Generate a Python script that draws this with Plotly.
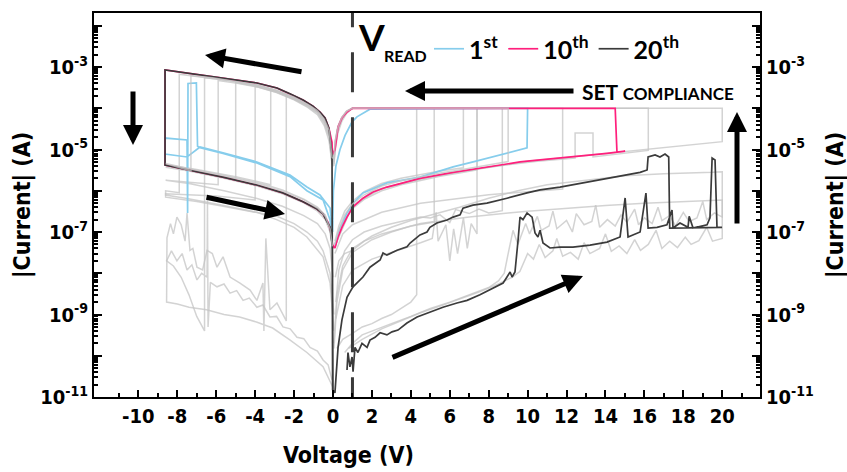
import plotly.graph_objects as go

# ------------------------------------------------------------------
# I-V sweeps, (voltage [V], |current| [A]) in sweep order:
# 0 -> +V (SET) -> 0 (compliance) -> -8.6 V (LRS / RESET) -> 0 (HRS)
# ------------------------------------------------------------------
cycle_1st = [
    (0.10, 4.9e-8), (0.36, 1.25e-7), (0.72, 2.9e-7), (1.03, 5.0e-7), (1.54, 8.9e-7),
    (2.77, 1.55e-6), (4.47, 2.15e-6), (5.30, 2.9e-6), (6.17, 3.8e-6), (7.20, 5.0e-6),
    (8.22, 6.6e-6), (9.10, 8.5e-6), (9.97, 1.1e-5), (10.00, 1.0e-4), (1.90, 9.5e-5),
    (1.23, 6.2e-5), (0.98, 4.7e-5), (0.62, 2.2e-5), (0.36, 1.0e-5), (0.15, 4.0e-6),
    (0.02, 1.0e-6), (-0.02, 1.0e-7), (-0.15, 3.8e-7), (-0.67, 7.9e-7), (-1.34, 1.23e-6),
    (-2.21, 2.4e-6), (-3.91, 5.0e-6), (-5.65, 8.3e-6), (-6.83, 1.15e-5), (-7.50, 6.6e-6),
    (-8.63, 7.8e-6), (-8.63, 1.9e-5), (-7.50, 1.7e-5), (-7.47, 2.9e-7), (-7.45, 4.0e-4),
    (-7.02, 4.1e-4), (-6.96, 1.2e-5), (-6.83, 1.1e-5), (-5.65, 8.0e-6), (-3.91, 4.7e-6),
    (-2.21, 2.2e-6), (-1.34, 1.0e-6), (-0.51, 6.0e-7), (-0.15, 1.95e-7), (-0.03, 4.0e-8),
]

cycle_10th = [
    (0.10, 4.1e-8), (0.26, 7.6e-8), (0.46, 1.3e-7), (0.72, 2.3e-7), (1.03, 4.1e-7),
    (1.54, 6.6e-7), (2.06, 9.3e-7), (2.77, 1.23e-6), (3.60, 1.55e-6), (4.47, 2.0e-6),
    (6.17, 2.8e-6), (7.91, 3.8e-6), (9.61, 5.0e-6), (10.64, 5.6e-6), (12.33, 6.6e-6),
    (14.08, 8.1e-6), (15.01, 9.1e-6), (14.59, 8.7e-6), (14.50, 1.0e-4), (1.00, 1.0e-4),
    (0.72, 8.1e-5), (0.46, 5.8e-5), (0.26, 3.5e-5), (0.15, 1.7e-5), (0.10, 9.8e-6),
    (-0.03, 7.4e-6), (-0.05, 1.5e-5), (-0.21, 3.3e-5), (-0.41, 5.8e-5), (-0.67, 8.1e-5),
    (-1.03, 1.13e-4), (-1.54, 1.58e-4), (-2.21, 2.24e-4), (-2.88, 3.1e-4), (-3.91, 4.1e-4),
    (-5.65, 5.4e-4), (-7.35, 7.1e-4), (-8.63, 8.5e-4), (-8.63, 4.2e-6), (-7.35, 3.2e-6),
    (-5.65, 2.15e-6), (-3.91, 1.38e-6), (-2.57, 8.9e-7), (-1.54, 5.4e-7), (-0.82, 3.6e-7),
    (-0.51, 2.7e-7), (-0.25, 1.7e-7), (-0.10, 1.0e-7), (-0.03, 5.0e-8), (0.08, 4.0e-8),
]

cycle_20th = [
    # forward sweep 0 -> 20 V
    (0.72, 4.5e-11), (0.77, 1.2e-10), (0.87, 5.4e-11), (0.98, 9.3e-11), (1.03, 4.1e-11),
    (1.13, 1.6e-10), (1.28, 1.2e-10), (1.49, 2.0e-10), (1.75, 1.6e-10), (1.90, 2.4e-10),
    (2.16, 2.8e-10), (2.42, 3.6e-10), (2.77, 3.2e-10), (3.03, 3.8e-10), (3.34, 4.2e-10),
    (3.80, 6.2e-10), (4.32, 8.7e-10), (4.98, 1.15e-9), (5.65, 1.5e-9), (6.37, 1.9e-9),
    (6.89, 2.2e-9), (7.55, 3.0e-9), (8.22, 4.4e-9), (8.74, 5.8e-9), (8.94, 8.1e-9),
    (9.10, 1.07e-8), (9.20, 8.1e-9), (9.35, 1.07e-8), (9.51, 6.4e-8), (9.61, 2.3e-7),
    (9.76, 2.0e-7), (9.97, 2.9e-7), (10.23, 2.3e-7), (10.38, 9.5e-8), (10.53, 7.6e-8),
    (10.64, 1.1e-7), (10.79, 5.4e-8), (11.15, 4.1e-8), (11.66, 4.3e-8), (12.33, 4.3e-8),
    (13.21, 4.8e-8), (14.08, 5.7e-8), (14.75, 7.6e-8), (15.01, 6.7e-7), (15.16, 7.6e-8),
    (15.78, 1.0e-7), (16.08, 8.8e-7), (16.19, 1.25e-7), (16.65, 1.3e-7), (17.16, 1.5e-7),
    (17.42, 3.4e-7), (17.47, 1.25e-7), (17.83, 1.65e-7), (18.24, 1.3e-7), (18.30, 2.4e-7),
    (18.50, 1.25e-7), (19.22, 1.5e-7), (19.37, 2.2e-7), (19.48, 6.2e-6), (19.63, 5.6e-6),
    (19.73, 1.3e-7), (19.99, 1.3e-7),
    # return sweep 20 -> 0 V
    (17.30, 1.25e-7), (17.25, 6.6e-6), (17.06, 7.8e-6), (16.80, 6.6e-6), (16.55, 7.4e-6),
    (16.19, 6.6e-6), (16.14, 3.2e-6), (15.78, 2.8e-6), (14.08, 2.0e-6), (12.33, 1.45e-6),
    (11.66, 1.23e-6), (10.64, 1.05e-6), (9.97, 8.9e-7), (8.94, 6.6e-7), (7.91, 5.0e-7),
    (7.19, 4.5e-7), (6.68, 3.8e-7), (6.53, 2.6e-7), (6.17, 2.3e-7), (5.86, 1.95e-7),
    (5.34, 1.66e-7), (4.98, 1.3e-7), (4.83, 1.0e-7), (4.47, 8.5e-8), (3.96, 5.4e-8),
    (3.80, 4.4e-8), (3.29, 3.6e-8), (2.77, 2.75e-8), (2.57, 3.1e-8), (2.42, 2.1e-8),
    (1.90, 1.4e-8), (1.54, 8.1e-9), (1.03, 4.7e-9), (0.87, 3.5e-9), (0.72, 2.6e-9),
    (0.46, 7.4e-10), (0.26, 1.6e-10), (0.10, 1.26e-11),
    # negative sweep
    (-0.02, 1.5e-11), (-0.05, 7.4e-6), (-0.21, 3.3e-5), (-0.41, 5.8e-5), (-0.67, 8.1e-5),
    (-1.03, 1.13e-4), (-1.54, 1.58e-4), (-2.21, 2.24e-4), (-2.88, 3.1e-4), (-3.91, 4.1e-4),
    (-5.65, 5.4e-4), (-7.35, 7.1e-4), (-8.63, 8.5e-4), (-8.63, 4.2e-6), (-7.35, 3.2e-6),
    (-5.65, 2.15e-6), (-3.91, 1.38e-6), (-2.57, 8.9e-7), (-1.54, 5.4e-7), (-0.82, 3.6e-7),
    (-0.51, 2.7e-7), (-0.15, 1.3e-7), (-0.03, 4.4e-8), (0.00, 1.2e-11),
]

# other cycles (drawn in light grey)
grey_a = [
    (0.08, 5e-8), (0.3, 1.1e-7), (0.6, 2.6e-7), (1.0, 4.8e-7), (1.6, 8e-7), (2.5, 1.3e-6),
    (3.5, 1.75e-6), (4.5, 2.2e-6), (5.5, 2.7e-6), (6.5, 3.2e-6), (7.5, 3.9e-6), (8.5, 4.7e-6),
    (9.0, 5.1e-6), (9.0, 1e-4), (1.0, 1e-4), (0.7, 8.4e-5), (0.45, 5.9e-5), (0.25, 3.4e-5),
    (0.12, 1.6e-5), (0.04, 6e-6), (-0.05, 6.5e-6), (-0.2, 3e-5), (-0.45, 5.4e-5),
    (-0.8, 8.8e-5), (-1.3, 1.25e-4), (-2.0, 1.85e-4), (-2.9, 2.7e-4), (-3.9, 3.7e-4),
    (-5.0, 4.5e-4), (-6.2, 5.5e-4), (-7.3, 6.2e-4), (-7.3, 3.0e-6), (-8.6, 4.6e-6),
    (-7.4, 3.4e-6), (-5.6, 2.3e-6), (-3.9, 1.5e-6), (-2.6, 9.8e-7), (-1.5, 6.0e-7),
    (-0.8, 3.8e-7), (-0.4, 2.4e-7), (-0.15, 1.2e-7), (-0.03, 4.5e-8),
]
grey_b = [
    (0.1, 4e-8), (0.3, 9e-8), (0.6, 2.0e-7), (1.0, 3.7e-7), (1.6, 6.2e-7), (2.5, 1.0e-6),
    (3.5, 1.4e-6), (4.5, 1.8e-6), (5.5, 2.25e-6), (6.5, 2.7e-6), (7.4, 3.2e-6), (7.4, 1e-4),
    (1.0, 1e-4), (0.7, 8.0e-5), (0.45, 5.5e-5), (0.25, 3.0e-5), (0.12, 1.3e-5), (0.04, 5e-6),
    (-0.05, 5.5e-6), (-0.2, 2.2e-5), (-0.45, 4.6e-5), (-0.8, 8.0e-5), (-1.3, 1.15e-4),
    (-2.0, 1.7e-4), (-2.9, 2.5e-4), (-3.9, 3.4e-4), (-5.0, 4.2e-4), (-5.0, 1.9e-6),
    (-6.5, 2.6e-6), (-8.6, 3.7e-6), (-7.4, 3.0e-6), (-5.6, 2.0e-6), (-3.9, 1.3e-6),
    (-2.6, 8.4e-7), (-1.5, 5.1e-7), (-0.8, 3.2e-7), (-0.4, 2.0e-7), (-0.15, 1.0e-7),
    (-0.03, 3.8e-8),
]
grey_c = [
    (0.1, 6e-8), (0.3, 1.4e-7), (0.6, 3.2e-7), (1.0, 5.6e-7), (1.6, 9.5e-7), (2.5, 1.5e-6),
    (3.5, 2.0e-6), (4.5, 2.5e-6), (5.5, 3.0e-6), (6.7, 3.6e-6), (6.7, 1e-4), (1.0, 1e-4),
    (0.7, 7.5e-5), (0.45, 4.8e-5), (0.25, 2.5e-5), (0.12, 1.0e-5), (0.04, 4e-6),
    (-0.05, 4.5e-6), (-0.2, 1.6e-5), (-0.45, 3.8e-5), (-0.8, 7.0e-5), (-1.3, 1.05e-4),
    (-2.0, 1.6e-4), (-2.9, 2.4e-4), (-4.0, 3.4e-4), (-4.0, 6e-7), (-6.0, 7.5e-7),
    (-8.6, 8.5e-7), (-8.6, 7.9e-7), (-7.5, 6.5e-7), (-6.0, 4.8e-7), (-3.9, 3.0e-7),
    (-2.9, 2.0e-7), (-2.0, 1.3e-7), (-1.34, 7.6e-8), (-0.51, 2.5e-8), (-0.15, 5.8e-9),
    (0.05, 4e-10),
]
grey_d = [
    (0.15, 2e-9), (0.3, 1.2e-8), (0.6, 3.5e-8), (1.0, 6.5e-8), (1.6, 1.0e-7), (2.5, 1.4e-7),
    (3.5, 1.8e-7), (4.5, 2.3e-7), (5.0, 2.2e-7), (5.5, 2.6e-7), (6.0, 1.7e-7), (6.3, 3.5e-7),
    (7.0, 2.8e-7), (7.5, 3.6e-7), (8.0, 2.9e-7), (8.7, 3.3e-7), (8.7, 1e-4), (1.0, 1e-4),
    (0.7, 8.6e-5), (0.45, 6.0e-5), (0.25, 3.6e-5), (0.12, 1.7e-5), (0.04, 7e-6),
    (-0.05, 8e-6), (-0.2, 3.2e-5), (-0.45, 5.6e-5), (-0.8, 9.0e-5), (-1.3, 1.28e-4),
    (-2.0, 1.9e-4), (-2.9, 2.75e-4), (-3.9, 3.7e-4), (-5.0, 4.6e-4), (-6.6, 5.5e-4),
    (-6.6, 4e-10), (-7.0, 9e-10), (-7.4, 3e-9), (-7.8, 8e-9), (-8.2, 1.5e-8), (-8.55, 2.0e-8),
    (-8.3, 3.5e-8), (-8.02, 2.0e-8), (-7.75, 3.0e-8), (-7.5, 1.2e-8), (-7.25, 1.6e-8),
    (-6.99, 6.9e-9), (-6.75, 1.0e-8), (-6.47, 8.1e-9), (-6.45, 6e-7), (-6.42, 5e-10),
    (-6.3, 6e-9), (-5.96, 4.7e-9), (-5.6, 5.5e-9), (-5.29, 3.3e-9), (-4.95, 3.8e-9),
    (-4.62, 2.2e-9), (-4.3, 2.5e-9), (-3.91, 1.5e-9), (-3.6, 1.7e-9), (-3.24, 8.7e-10),
    (-2.9, 9e-10), (-2.57, 5.0e-10), (-2.2, 4.5e-10), (-1.85, 2.8e-10), (-1.5, 2.6e-10),
    (-1.18, 1.6e-10), (-0.8, 1.3e-10), (-0.51, 7.9e-11), (-0.25, 6e-11), (-0.05, 2.6e-11),
]
grey_e = [
    (0.2, 1.5e-10), (0.5, 2.5e-10), (1.0, 3.5e-10), (1.5, 5e-10), (2.0, 6e-10), (2.5, 8e-10),
    (3.0, 1.0e-9), (3.5, 1.4e-9), (4.0, 2.0e-9), (4.3, 3.0e-9), (4.3, 1e-4), (1.0, 1e-4),
    (0.7, 8.2e-5), (0.45, 5.6e-5), (0.25, 3.1e-5), (0.12, 1.3e-5), (0.04, 5e-6),
    (-0.05, 6e-6), (-0.2, 2.6e-5), (-0.45, 5.0e-5), (-0.8, 8.3e-5), (-1.3, 1.2e-4),
    (-1.9, 1.6e-4), (-2.4, 2.0e-4), (-2.4, 7e-10), (-2.88, 1.9e-9), (-3.24, 1.3e-9),
    (-3.45, 7e-8), (-3.55, 4e-10), (-3.6, 5.8e-9), (-3.91, 2.2e-9), (-4.26, 3.9e-9),
    (-4.78, 5.8e-9), (-5.29, 8.1e-9), (-5.65, 2.5e-8), (-5.96, 1.4e-8), (-6.2, 3e-8),
    (-6.47, 3.6e-8), (-6.7, 1.2e-8), (-6.99, 1.4e-8), (-7.2, 4e-8), (-7.35, 3.6e-8),
    (-7.5, 2.9e-7), (-7.6, 6e-8), (-7.8, 1.5e-7), (-8.02, 2.3e-7), (-8.2, 9e-8),
    (-8.35, 1.6e-7), (-8.53, 7.2e-8), (-8.55, 2.0e-9), (-8.0, 1.8e-9), (-7.4, 1.5e-9),
    (-6.5, 1.3e-9), (-5.6, 1.0e-9), (-4.8, 8.7e-10), (-3.9, 6.5e-10), (-3.1, 4.7e-10),
    (-2.2, 2.4e-10), (-1.34, 1.2e-10), (-0.51, 5.4e-11), (0.0, 1.7e-11),
]
grey_f = [
    (0.12, 8e-9), (0.3, 2e-8), (0.6, 3e-8), (1.0, 3.6e-8), (1.6, 6e-8), (2.5, 9e-8),
    (3.5, 1.2e-7), (4.5, 1.6e-7), (5.2, 1.8e-7), (5.2, 1e-4), (1.0, 1e-4), (0.7, 8.1e-5),
    (0.45, 5.4e-5), (0.25, 2.8e-5), (0.12, 1.2e-5), (0.04, 4.5e-6), (-0.05, 5e-6),
    (-0.2, 2.0e-5), (-0.45, 4.3e-5), (-0.8, 7.6e-5), (-1.3, 1.1e-4), (-2.0, 1.65e-4),
    (-2.9, 2.45e-4), (-3.9, 3.3e-4), (-5.0, 4.1e-4), (-5.9, 4.7e-4), (-5.9, 1.4e-6),
    (-7.3, 1.6e-6), (-8.6, 1.8e-6), (-7.4, 1.5e-6), (-5.6, 1.0e-6), (-3.9, 6.5e-7),
    (-2.6, 4.2e-7), (-1.5, 2.5e-7), (-0.8, 1.6e-7), (-0.4, 9e-8), (-0.15, 4e-8), (0.0, 8e-9),
]
grey_g = [
    (0.15, 8e-10), (0.5, 5e-9), (1.0, 1.2e-8), (2.0, 2.2e-8), (3.0, 3.2e-8), (4.0, 4.5e-8),
    (4.5, 5.5e-8), (5.1, 7e-8), (5.3, 3e-7), (5.4, 6e-8), (5.8, 1.5e-7), (6.0, 2e-8),
    (6.2, 1.2e-7), (6.4, 3e-8), (6.7, 2.2e-7), (6.9, 4e-8), (7.1, 1.6e-7), (7.4, 9e-8),
    (7.4, 1e-4), (1.0, 1e-4), (0.7, 8.5e-5), (0.45, 5.8e-5), (0.25, 3.5e-5), (0.12, 1.6e-5),
    (0.04, 6.5e-6), (-0.05, 7e-6), (-0.2, 2.9e-5), (-0.45, 5.3e-5), (-0.8, 8.6e-5),
    (-1.3, 1.22e-4), (-2.0, 1.8e-4), (-2.9, 2.6e-4), (-3.9, 3.55e-4), (-5.0, 4.45e-4),
    (-6.2, 5.35e-4), (-7.4, 6.3e-4), (-7.9, 6.7e-4), (-7.9, 9e-7), (-8.6, 1.0e-6),
    (-8.6, 7e-7), (-7.0, 5.5e-7), (-5.65, 4.2e-7), (-4.3, 3.2e-7), (-2.88, 2.4e-7),
    (-2.0, 1.6e-7), (-1.34, 1.0e-7), (-0.8, 6e-8), (-0.51, 3.5e-8), (-0.15, 1e-8), (0.05, 1e-9),
]
grey_h = [
    (0.1, 4.5e-8), (0.5, 1.5e-7), (1.0, 4.2e-7), (2.0, 9.5e-7), (3.0, 1.3e-6), (4.5, 2.0e-6),
    (6.0, 2.7e-6), (8.0, 3.8e-6), (10.0, 5.2e-6), (12.0, 6.4e-6), (14.0, 8.0e-6),
    (15.0, 9.0e-6), (16.0, 1.0e-5), (17.0, 1.1e-5), (18.0, 1.25e-5), (19.0, 1.4e-5),
    (20.0, 1.55e-5), (20.0, 1e-4), (1.0, 1e-4), (0.7, 8.3e-5), (0.45, 5.7e-5), (0.25, 3.3e-5),
    (0.12, 1.5e-5), (0.04, 6e-6), (-0.05, 6.5e-6), (-0.2, 2.7e-5), (-0.45, 5.1e-5),
    (-0.8, 8.4e-5), (-1.3, 1.2e-4), (-2.0, 1.75e-4), (-2.6, 2.3e-4), (-3.2, 2.8e-4),
    (-3.2, 1.4e-6), (-5.0, 2.2e-6), (-7.0, 3.3e-6), (-8.6, 4.3e-6), (-7.4, 3.5e-6),
    (-5.6, 2.45e-6), (-3.9, 1.6e-6), (-2.6, 1.05e-6), (-1.5, 6.3e-7), (-0.8, 4e-7),
    (-0.4, 2.6e-7), (-0.15, 1.3e-7), (-0.03, 5e-8),
]
grey_i = [
    (0.6, 1.2e-10), (1.0, 2e-10), (1.5, 3.2e-10), (2.0, 4e-10), (3.0, 6e-10), (4.0, 9e-10),
    (5.0, 1.4e-9), (6.0, 2.0e-9), (7.0, 3.0e-9), (8.0, 4.5e-9), (8.5, 6.5e-9), (8.8, 1.0e-8),
    (9.0, 3e-8), (9.25, 1.1e-7), (9.5, 5e-8), (9.9, 1.6e-7), (10.1, 9e-8), (10.5, 2.4e-7),
    (10.7, 1.1e-7), (11.1, 1.4e-7), (11.3, 3.2e-7), (11.5, 1.2e-7), (12.0, 1.9e-7),
    (12.3, 1.0e-7), (12.5, 2.8e-7), (12.9, 1.5e-7), (13.3, 1.8e-7), (13.5, 4.5e-7),
    (13.7, 1.3e-7), (14.1, 2.0e-7), (14.5, 1.4e-7), (14.8, 2.6e-7), (15.1, 1.7e-7),
    (15.5, 3.6e-7), (15.7, 1.5e-7), (16.0, 2.2e-7), (16.4, 1.6e-7), (16.7, 4.0e-7),
    (16.9, 1.9e-7), (17.3, 2.5e-7), (17.6, 1.4e-7), (18.0, 3.0e-7), (18.3, 1.8e-7),
    (18.7, 2.2e-7), (19.0, 5.5e-7), (19.2, 2.0e-7), (19.6, 2.9e-7), (20.0, 2.3e-7),
    (20.0, 2.9e-6), (19.5, 2.8e-6), (17.0, 2.6e-6), (15.0, 2.3e-6), (13.0, 1.8e-6),
    (11.0, 1.4e-6), (9.5, 1.0e-6), (8.0, 6.6e-7), (6.5, 4.0e-7), (5.0, 2.6e-7), (4.0, 1.9e-7),
    (3.0, 1.3e-7), (2.0, 8e-8), (1.0, 4e-8), (0.5, 1.5e-8), (0.2, 3e-9), (0.05, 2e-10),
]
grey_j = [
    (0.8, 1.5e-10), (1.5, 2.5e-10), (2.5, 4.5e-10), (3.5, 7e-10), (4.5, 1.1e-9), (5.5, 1.6e-9),
    (6.5, 2.4e-9), (7.5, 3.5e-9), (8.5, 5.5e-9), (9.2, 8e-9), (9.6, 1.1e-8), (10.0, 3e-8),
    (10.3, 2.2e-8), (10.6, 5e-8), (10.9, 2.4e-8), (11.3, 3.5e-8), (11.5, 7e-8), (11.8, 2.6e-8),
    (12.2, 3.2e-8), (12.6, 2.2e-8), (12.9, 5.5e-8), (13.2, 3e-8), (13.7, 4e-8), (14.0, 9e-8),
    (14.3, 3.4e-8), (14.7, 4.6e-8), (15.1, 3e-8), (15.5, 6.5e-8), (15.8, 3.6e-8), (16.2, 5e-8),
    (16.6, 1.1e-7), (16.9, 4e-8), (17.3, 6e-8), (17.7, 4.2e-8), (18.1, 7.5e-8), (18.4, 5e-8),
    (18.8, 6.2e-8), (19.2, 1.3e-7), (19.5, 6e-8), (20.0, 7e-8), (20.0, 6e-7), (18.0, 5.5e-7),
    (16.0, 5e-7), (14.0, 4.4e-7), (12.0, 3.8e-7), (10.0, 3.2e-7), (9.0, 2.9e-7), (8.0, 2.6e-7),
    (7.0, 2.3e-7), (6.0, 2.0e-7), (5.0, 1.7e-7), (4.0, 1.4e-7), (3.0, 1.0e-7), (2.0, 6.5e-8),
    (1.0, 3.2e-8), (0.5, 1.2e-8), (0.2, 2e-9), (0.05, 1.5e-10),
]
grey_k = [
    (0.1, 3e-8), (0.5, 9e-8), (1.0, 1.5e-7), (2.5, 3e-7), (4.5, 5e-7), (6.5, 6.6e-7),
    (8.0, 8e-7), (10.0, 9.5e-7), (11.8, 1.1e-6), (11.8, 1e-4), (1.0, 1e-4), (0.7, 8.3e-5),
    (0.45, 5.7e-5), (0.25, 3.3e-5), (0.12, 1.5e-5), (0.04, 6e-6),
]
grey_l = [
    (0.1, 4.5e-8), (1.0, 4.4e-7), (2.5, 1.15e-6), (4.5, 1.9e-6), (6.5, 2.9e-6),
    (8.5, 4.0e-6), (10.5, 5.2e-6), (12.44, 6.2e-6), (12.44, 2.5e-5), (13.36, 2.5e-5),
    (13.36, 6.6e-6), (14.5, 7.6e-6), (15.5, 8.8e-6), (16.2, 9.5e-6), (16.2, 1e-4), (1.0, 1e-4),
]
grey_cycles = [grey_a, grey_b, grey_c, grey_d, grey_e, grey_f, grey_g, grey_h,
               grey_i, grey_j, grey_k, grey_l]

V_READ = 1.0  # read voltage (V)

x_tick_vals = [-10, -8, -6, -4, -2, 0, 2, 4, 6, 8, 10, 12, 14, 16, 18, 20]
x_tick_text = ["-10", "-8", "-6", "-4", "-2", "0", "2", "4", "6", "8",
               "10", "12", "14", "16", "18", "20"]
x_minor_vals = list(range(-11, 22))
y_decades = list(range(-11, -1))

X_RANGE = [-12.28, 21.94]
Y_RANGE = [-11, -1.69]          # log10 range

AX_FONT = "DejaVu Sans Condensed, Liberation Sans, Arial, sans-serif"
LBL_FONT = "Lato, Carlito, Calibri, sans-serif"

BLUE = "#86cdec"
PINK = "#ff1f7c"
DARK = "#3b3b3b"
GREY = "rgba(196,196,196,0.75)"

# plot area in pixels (figure 847 x 472)
L, R, T, B = 94, 760, 13, 397


def paper(px, py):
    return (px - L) / (R - L), (B - py) / (B - T)


def unzip(pairs):
    return [p[0] for p in pairs], [p[1] for p in pairs]


fig = go.Figure()

for n, cyc in enumerate(grey_cycles):
    v, i = unzip(cyc)
    fig.add_trace(go.Scatter(x=v, y=i, mode="lines", showlegend=False, hoverinfo="skip",
                             line=dict(color=GREY, width=1.5),
                             yaxis="y2" if n == 0 else "y"))

for pairs, name, col in [(cycle_1st, "1<sup>st</sup>", BLUE),
                         (cycle_10th, "10<sup>th</sup>", PINK),
                         (cycle_20th, "20<sup>th</sup>", DARK)]:
    v, i = unzip(pairs)
    fig.add_trace(go.Scatter(x=v, y=i, mode="lines", name=name,
                             line=dict(color=col, width=1.7)))

# read-voltage marker line (starts just below the axis so the dash phase lines up)
fig.add_trace(go.Scatter(x=[V_READ, V_READ], y=[10 ** (Y_RANGE[0] - 0.49), 10 ** Y_RANGE[1]],
                         mode="lines", showlegend=False, hoverinfo="skip",
                         line=dict(color="#3a3a3a", width=3, dash="40px,25px")))

tick_y = [10.0 ** e for e in y_decades]
text_y = [f"10<sup>{e}</sup>" if e % 2 else "" for e in y_decades]
minor_y = [m * 10.0 ** e for e in y_decades for m in range(2, 10) if m * 10.0 ** e < 10 ** Y_RANGE[1]]

tickfont = dict(family=AX_FONT, size=20, color="black", weight="bold")
yax = dict(type="log", range=Y_RANGE, showline=True, linewidth=2, linecolor="black",
           ticks="inside", ticklen=8, tickwidth=2, tickcolor="black",
           tickvals=tick_y, ticktext=text_y, tickfont=tickfont,
           minor=dict(tickvals=minor_y, ticks="inside", ticklen=4, tickwidth=1.5,
                      tickcolor="black", showgrid=False),
           showgrid=False, zeroline=False)

fig.update_layout(
    width=847, height=472,
    margin=dict(l=L, r=847 - R, t=T, b=472 - B),
    paper_bgcolor="white", plot_bgcolor="white",
    xaxis=dict(range=X_RANGE, showline=True, linewidth=2, linecolor="black", mirror=True,
               ticks="inside", ticklen=7, tickwidth=2, tickcolor="black",
               tickvals=x_tick_vals, ticktext=x_tick_text, tickfont=tickfont,
               minor=dict(tickvals=x_minor_vals, ticks="inside", ticklen=4, tickwidth=2,
                          tickcolor="black", showgrid=False),
               showgrid=False, zeroline=False),
    yaxis=dict(side="left", **yax),
    yaxis2=dict(side="right", overlaying="y", **yax),
    legend=dict(orientation="h", x=paper(429, 0)[0], y=paper(0, 26)[1],
                xanchor="left", yanchor="top", bgcolor="rgba(0,0,0,0)",
                font=dict(family=LBL_FONT, size=25, color="black", weight="bold"),
                itemwidth=30, tracegroupgap=0),
    showlegend=True,
)

# axis titles
title_font = dict(family=AX_FONT, size=23, color="black", weight="bold")
for text, (px, py), ang in [("Voltage (V)", (348, 455), 0),
                            ("|Current| (A)", (22, 205), -90),
                            ("|Current| (A)", (835, 205), -90)]:
    xp, yp = paper(px, py)
    fig.add_annotation(text=text, x=xp, y=yp, xref="paper", yref="paper",
                       showarrow=False, textangle=ang, font=title_font,
                       xanchor="center", yanchor="middle")

# V_READ and SET COMPLIANCE labels
xp, yp = paper(356, 36)
fig.add_annotation(text="V", x=xp, y=yp, xref="paper", yref="paper", showarrow=False,
                   xanchor="left", yanchor="middle",
                   font=dict(family=LBL_FONT, size=37, color="black", weight="bold"))
xp, yp = paper(382, 56)
fig.add_annotation(text="READ", x=xp, y=yp, xref="paper", yref="paper", showarrow=False,
                   xanchor="left", yanchor="middle",
                   font=dict(family=LBL_FONT, size=16, color="black", weight="bold"))
xp, yp = paper(580, 92)
fig.add_annotation(text="SET <span style='font-size:17px'>COMPLIANCE</span>",
                   x=xp, y=yp, xref="paper", yref="paper", showarrow=False,
                   xanchor="left", yanchor="middle",
                   font=dict(family=LBL_FONT, size=21, color="black", weight="bold"))

# sweep-direction arrows: (tip px, tip py, tail dx, tail dy)
for tx, ty, dx, dy in [(205, 55, 98, 17), (133, 145, 0, -55), (285, 214, -80, -17),
                       (583, 276, -192, 82), (405, 91, 170, 0), (737, 112, 0, 113)]:
    xp, yp = paper(tx, ty)
    fig.add_annotation(x=xp, y=yp, xref="paper", yref="paper", ax=dx, ay=dy,
                       text="", showarrow=True, arrowhead=2, arrowsize=0.8,
                       arrowwidth=5, arrowcolor="black", standoff=0)

fig.write_html("out.html")
